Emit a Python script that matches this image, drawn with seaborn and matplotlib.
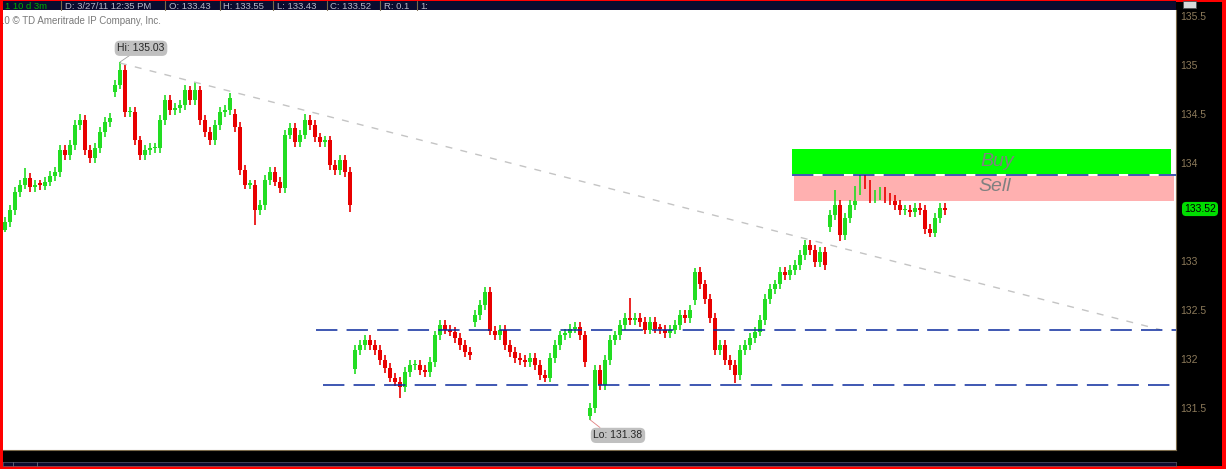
import matplotlib
matplotlib.use("Agg")
import matplotlib.pyplot as plt
import seaborn as sns
import pandas as pd
from matplotlib.patches import Rectangle

# 3-min candles (one value every ~5 px)
closes = [
    # session 1
    133.40, 133.52, 133.70, 133.78, 133.85, 133.75, 133.78, 133.77, 133.81, 133.87, 133.91,
    134.13, 134.08, 134.18, 134.39, 134.44, 134.13, 134.05, 134.15, 134.32, 134.42, 134.46,
    # session 2
    134.80, 134.95, 134.52, 134.52, 134.23, 134.08, 134.13, 134.15, 134.15, 134.44, 134.64, 134.54,
    134.56, 134.59, 134.74, 134.64, 134.74, 134.44, 134.32, 134.23, 134.39, 134.52, 134.54, 134.66,
    # session 3
    134.37, 133.93, 133.78, 133.78, 133.52, 133.57, 133.83, 133.91, 133.81, 133.74, 134.29, 134.36,
    134.21, 134.29, 134.44, 134.39, 134.26, 134.21, 134.23, 133.98, 133.93, 134.03, 133.91, 133.57,
    # session 4
    132.09, 132.14, 132.19, 132.14, 132.09, 131.99, 131.91, 131.81, 131.77, 131.71,
    131.87, 131.94, 131.94, 131.89, 131.87, 131.97, 132.24, 132.35, 132.30, 132.28,
    132.21, 132.14, 132.07, 132.04, 132.45, 132.55, 132.68, 132.29, 132.24, 132.30,
    132.14, 132.07, 132.01, 131.99, 131.97, 132.01, 131.94, 131.84, 131.81, 132.01,
    132.14, 132.24, 132.26, 132.31, 132.33, 132.24, 131.97, 131.50, 131.89, 131.73,
    131.99, 132.19, 132.24, 132.35, 132.42, 132.40, 132.42, 132.38, 132.30, 132.38,
    132.31, 132.30, 132.26, 132.30, 132.35, 132.45, 132.42, 132.50, 132.89, 132.76,
    132.61, 132.42, 132.09, 132.14, 131.99, 131.94, 131.84, 132.09, 132.14, 132.21,
    132.28, 132.40, 132.61, 132.71, 132.76, 132.89, 132.86, 132.91, 132.96, 133.06,
    133.16, 133.11, 132.99, 133.09, 132.96,
    # session 5
    133.47, 133.57, 133.26, 133.44, 133.57, 133.72, 133.83, 133.78, 133.64, 133.67, 133.70, 133.64,
    133.62, 133.57, 133.52, 133.52, 133.50, 133.54, 133.52, 133.33, 133.29, 133.44, 133.54, 133.52,
]
# opens after a gap (otherwise the bar opens at the previous close)
gap_opens = {0: 133.32, 22: 134.72, 46: 134.50, 70: 131.90, 94: 132.38,
             117: 131.42, 138: 132.60, 165: 133.35}
spike_highs = {4: 133.95, 15: 134.50, 23: 135.03, 36: 134.80, 38: 134.83, 60: 134.50,
               96: 132.73, 125: 132.62, 138: 132.93, 166: 133.72, 171: 133.88}
spike_lows = {0: 133.30, 50: 133.37, 69: 133.50, 79: 131.60, 117: 131.38,
              146: 131.75, 167: 133.20, 185: 133.24}

price_ticks = [131.5, 132, 132.5, 133, 134, 134.5, 135, 135.5]
support_levels = [132.30, 131.73, 133.88]
support_starts = [62.2, 63.6, 157.4]
buy_zone = (133.89, 134.14)
sell_zone = (133.61, 133.87)
trend = pd.DataFrame({"i": [23, 231], "price": [135.02, 132.30]})
last_price = 133.52

rows = []
for i, c in enumerate(closes):
    o = gap_opens.get(i, closes[i - 1] if i else c)
    hi = spike_highs.get(i, max(o, c) + 0.05)
    lo = spike_lows.get(i, min(o, c) - 0.05)
    rows.append((i, o, hi, lo, c))
df = pd.DataFrame(rows, columns=["i", "open", "high", "low", "close"])
df["color"] = ["#22DD22" if c >= o else "#E80000" for o, c in zip(df.open, df.close)]

sns.set_style("white")
plt.rcParams["font.family"] = ["Liberation Sans", "DejaVu Sans"]

W, H = 1226, 469
fig = plt.figure(figsize=(W / 100, H / 100), dpi=100, facecolor="#FF0000")


def fx(p):
    return p / W


def fy(p):
    return 1 - p / H


# black frame inside the red border
bg = fig.add_axes([fx(3), fy(466), fx(1219), 464 / H])
bg.set_facecolor("black")
bg.set_xticks([]); bg.set_yticks([])
for s in bg.spines.values():
    s.set_visible(False)

ax = fig.add_axes([fx(3), fy(450), fx(1173), 440 / H])
ax.set_facecolor("white")

ax.vlines(df.i, df.low, df.high, colors=df.color, lw=1.2)
body = (df.close - df.open).where((df.close - df.open).abs() > 0.01, 0.012)
ax.bar(df.i, body, bottom=df.open, width=0.8, color=df.color, linewidth=0)

sns.lineplot(data=trend, x="i", y="price", ax=ax, color="#C4C4C4", lw=1,
             dashes=False, linestyle=(0, (5, 6)))

ax.add_patch(Rectangle((157.4, buy_zone[0]), 75.8, buy_zone[1] - buy_zone[0],
                       color="#00FF00", lw=0, zorder=1))
ax.add_patch(Rectangle((157.8, sell_zone[0]), 76.0, sell_zone[1] - sell_zone[0],
                       color="#FFB0B0", lw=0, zorder=1))
ax.text(198.4, 134.02, "Buy", ha="center", va="center", fontsize=14,
        style="italic", color="#808080", zorder=2)
ax.text(198.0, 133.76, "Sell", ha="center", va="center", fontsize=14,
        style="italic", color="#808080", zorder=2)

for lvl, st in zip(support_levels, support_starts):
    ax.plot([st, 234.2], [lvl, lvl], color="#0A2A9E", lw=1.1,
            linestyle=(0, (14, 6)), zorder=3)

ax.set_xlim(-0.4, 234.2)
ax.set_ylim(131.071, 135.561)
ax.set_yticks(price_ticks)
ax.set_yticklabels([f"{t:g}" for t in price_ticks])
ax.yaxis.tick_right()
ax.tick_params(axis="y", length=0, pad=3, labelcolor="#8C7A5A", labelsize=7.5)
ax.set_xticks([])
ax.set_xlabel(""); ax.set_ylabel("")
for side in ["top", "left"]:
    ax.spines[side].set_visible(False)
for side in ["right", "bottom"]:
    ax.spines[side].set_color("#7A6A4A")
    ax.spines[side].set_linewidth(0.8)

# Hi / Lo callouts
ax.plot([23, 25], [135.03, 135.10], color="#A0A0A0", lw=0.6)
ax.text(27.2, 135.17, "Hi: 135.03", ha="center", va="center", fontsize=7.5,
        bbox=dict(boxstyle="round,pad=0.25,rounding_size=0.5", fc="#C0C0C0", ec="none"))
ax.plot([117, 119], [131.38, 131.30], color="#E08080", lw=0.6)
ax.text(122.6, 131.22, "Lo: 131.38", ha="center", va="center", fontsize=7.5,
        bbox=dict(boxstyle="round,pad=0.25,rounding_size=0.5", fc="#C0C0C0", ec="none"))

ax.text(-0.003, 0.975, "10 \u00a9 TD Ameritrade IP Company, Inc.", transform=ax.transAxes,
        fontsize=7, color="#7A7A7A", va="center", ha="left", clip_on=True)

# header bar
top = fig.add_axes([fx(3), fy(10), fx(1173), 9 / H])
top.set_facecolor("#0B0B2E")
top.set_xticks([]); top.set_yticks([])
for s in top.spines.values():
    s.set_visible(False)
head = ["1 10 d 3m", "D: 3/27/11 12:35 PM", "O: 133.43", "H: 133.55",
        "L: 133.43", "C: 133.52", "R: 0.1", "1:"]
head_x = [5, 65, 169, 223, 277, 330, 384, 420]
seps = [61, 165, 220, 273, 327, 380, 417]
for t, xp in zip(head, head_x):
    fig.text(fx(xp), fy(9), t, fontsize=6.8, va="baseline",
             color="#00B000" if t.startswith("1 10") else "#B8B8C8")
for sp in seps:
    fig.add_artist(plt.Line2D([fx(sp), fx(sp)], [fy(10), fy(1)], color="#7A6A4A", lw=0.8))
fig.add_artist(Rectangle((fx(1183), fy(8)), fx(13), 7 / H, fc="#D8D8D8", ec="#505050", lw=0.6))

# bottom strip
bot = fig.add_axes([fx(3), fy(466), fx(1173), 4 / H])
bot.set_facecolor("#0B0B2E")
bot.set_xticks([]); bot.set_yticks([])
for s in bot.spines.values():
    s.set_color("#5A5A6A"); s.set_linewidth(0.5)
for sp in [13, 37]:
    fig.add_artist(plt.Line2D([fx(sp), fx(sp)], [fy(466), fy(462)], color="#6A6A7A", lw=0.6))

fig.text(fx(1200), fy(209), f"{last_price:.2f}", ha="center", va="center", fontsize=7.5,
         color="black",
         bbox=dict(boxstyle="round,pad=0.2,rounding_size=0.4", fc="#00DD00", ec="none"))

plt.savefig("out.png", dpi=100, facecolor=fig.get_facecolor())
